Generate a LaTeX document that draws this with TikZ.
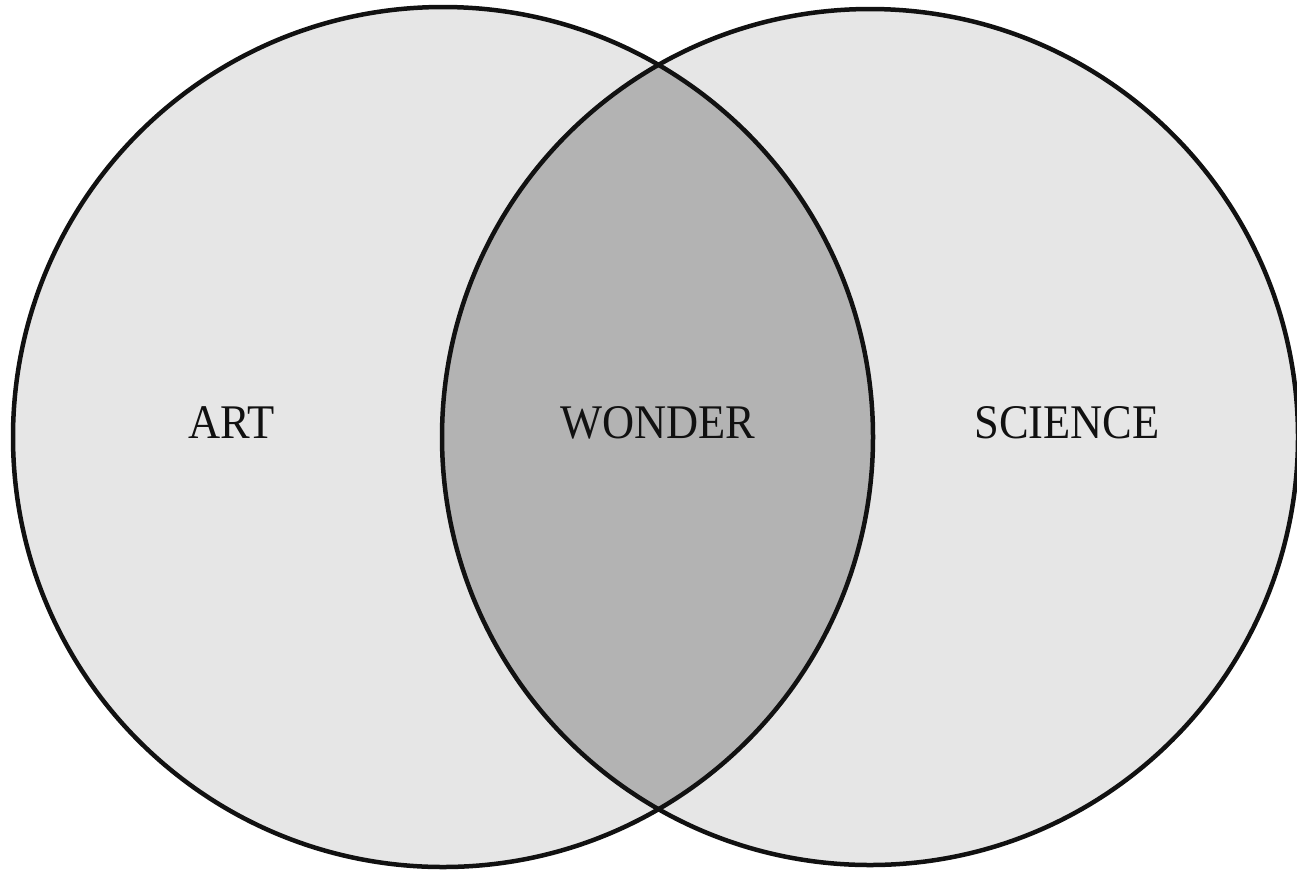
\documentclass[tikz,border=0pt]{standalone}
\usepackage{fontspec}
\setmainfont{Liberation Serif}
\newfontfamily\labelfont[FakeStretch=0.92]{Liberation Serif}
\definecolor{setfill}{HTML}{E6E6E6}
\definecolor{interfill}{HTML}{B3B3B3}
\definecolor{ink}{HTML}{111111}
\begin{document}
\begin{tikzpicture}[x=0.02cm,y=-0.02cm,
  setcircle/.style={draw=ink,line width=4.5*0.02cm},
  setlabel/.style={font=\labelfont\fontsize{27.5}{32}\selectfont,text=ink,inner sep=0pt}]
\useasboundingbox (0,0) rectangle (1297,870);
\fill[setfill] (443,437) circle[radius=430];
\fill[setfill] (870,437) circle[radius=428];
\begin{scope}
  \clip (443,437) circle[radius=430];
  \fill[interfill] (870,437) circle[radius=428];
\end{scope}
\draw[setcircle] (443,437) circle[radius=430];
\draw[setcircle] (870,437) circle[radius=428];
\node[setlabel] (art) at (232,423) {ART};
\node[setlabel] (wonder) at (658,423) {WONDER};
\node[setlabel] (science) at (1067,423) {SCIENCE};
\end{tikzpicture}
\end{document}
